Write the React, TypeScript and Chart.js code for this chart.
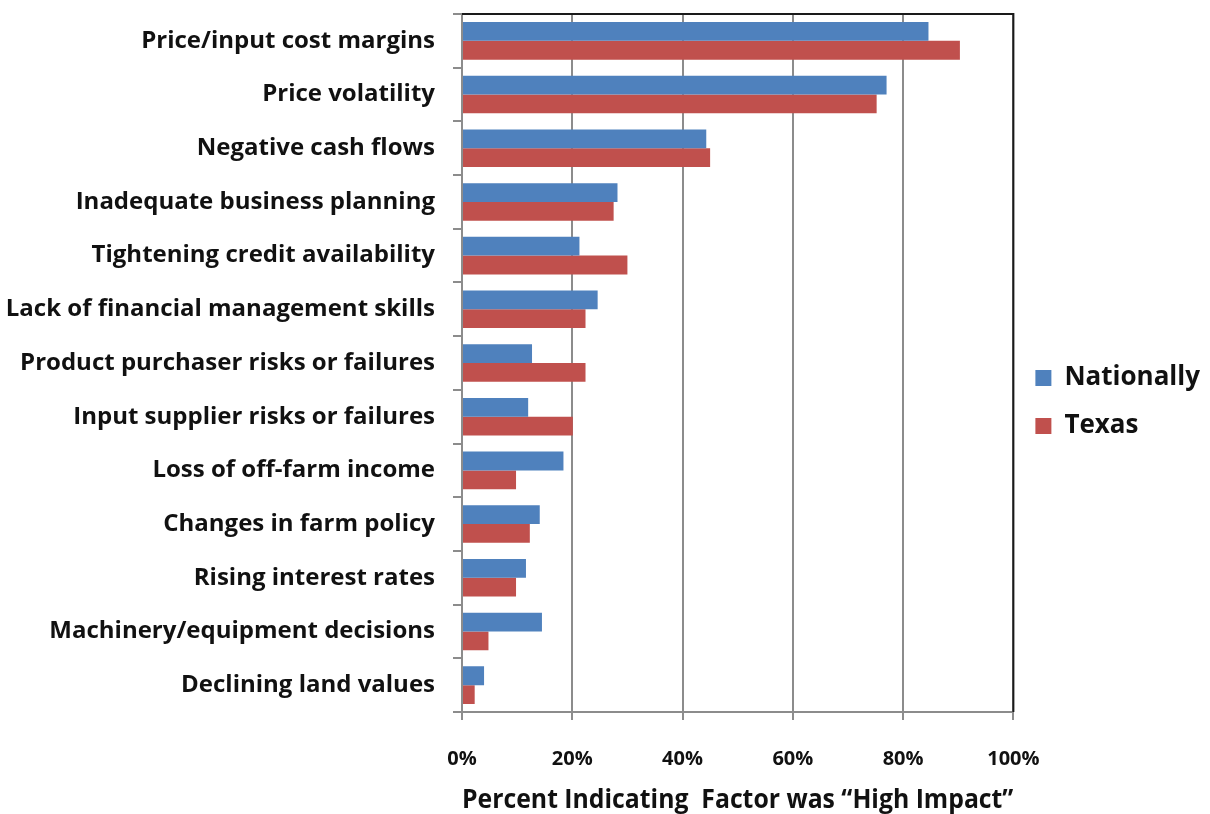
import React, { useEffect, useRef } from "react";
import { Chart, registerables } from "chart.js";

Chart.register(...registerables);

const categories = [
  "Price/input cost margins",
  "Price volatility",
  "Negative cash flows",
  "Inadequate business planning",
  "Tightening credit availability",
  "Lack of financial management skills",
  "Product purchaser risks or failures",
  "Input supplier risks or failures",
  "Loss of off-farm income",
  "Changes in farm policy",
  "Rising interest rates",
  "Machinery/equipment decisions",
  "Declining land values",
];

const nationally = [84.6, 77.0, 44.3, 28.2, 21.3, 24.6, 12.7, 12.0, 18.4, 14.1, 11.6, 14.5, 4.0];
const texas = [90.3, 75.2, 45.0, 27.5, 30.0, 22.4, 22.4, 20.1, 9.8, 12.3, 9.8, 4.8, 2.3];

const xTickValues = [0, 20, 40, 60, 80, 100];
const xTitle = "Percent Indicating  Factor was \u201CHigh Impact\u201D";

const FONT = "'Open Sans', 'Noto Sans', sans-serif";

const borderPlugin = {
  id: "plotBorder",
  afterDatasetsDraw(chart: any) {
    const { ctx, chartArea } = chart;
    ctx.save();
    ctx.strokeStyle = "#1a1a1a";
    ctx.lineWidth = 2;
    ctx.beginPath();
    ctx.moveTo(chartArea.left, chartArea.top);
    ctx.lineTo(chartArea.right, chartArea.top);
    ctx.lineTo(chartArea.right, chartArea.bottom);
    ctx.stroke();
    ctx.restore();
  },
};

export default function App() {
  const ref = useRef<HTMLCanvasElement | null>(null);

  useEffect(() => {
    if (!ref.current) return;
    const chart = new Chart(ref.current, {
      type: "bar",
      data: {
        labels: categories,
        datasets: [
          {
            label: "Nationally",
            data: nationally,
            backgroundColor: "#4F81BD",
            categoryPercentage: 0.7,
            barPercentage: 1.0,
          },
          {
            label: "Texas",
            data: texas,
            backgroundColor: "#C0504D",
            categoryPercentage: 0.7,
            barPercentage: 1.0,
          },
        ],
      },
      options: {
        indexAxis: "y",
        responsive: true,
        maintainAspectRatio: false,
        animation: false,
        layout: { padding: { top: 14, right: 0, bottom: 24, left: 0 } },
        plugins: {
          legend: {
            position: "right",
            labels: {
              boxWidth: 16,
              boxHeight: 16,
              padding: 22,
              color: "#111",
              font: { family: FONT, size: 26, weight: "bold" },
            },
          },
          tooltip: { enabled: false },
        },
        scales: {
          x: {
            min: 0,
            max: 100,
            afterBuildTicks(scale: any) {
              scale.ticks = xTickValues.map((v) => ({ value: v }));
            },
            afterFit(scale: any) {
              scale.height = 78;
            },
            grid: {
              color: "#8c8c8c",
              lineWidth: 2,
              tickLength: 8,
              drawOnChartArea: true,
            },
            border: { color: "#8c8c8c", width: 2 },
            ticks: {
              padding: 27,
              color: "#111",
              font: { family: FONT, size: 20, weight: "bold" },
              callback: (v: any) => v + "%",
            },
            title: {
              display: true,
              text: xTitle,
              color: "#111",
              padding: { top: 4, bottom: -27 },
              font: { family: FONT, size: 27, weight: "bold" },
            },
          },
          y: {
            afterFit(scale: any) {
              scale.width = 462;
              scale.paddingTop = 0;
              scale.paddingBottom = 0;
            },
            grid: {
              offset: true,
              drawOnChartArea: false,
              color: "#8c8c8c",
              lineWidth: 2,
              tickLength: 9,
            },
            border: { color: "#8c8c8c", width: 2 },
            ticks: {
              padding: 18,
              color: "#111",
              font: { family: FONT, size: 24, weight: "bold" },
            },
          },
        },
      },
      plugins: [borderPlugin],
    } as any);
    return () => chart.destroy();
  }, []);

  return (
    <div style={{ position: "fixed", left: 0, top: 0, width: 1210, height: 814, background: "#fff" }}>
      <canvas ref={ref} />
    </div>
  );
}
